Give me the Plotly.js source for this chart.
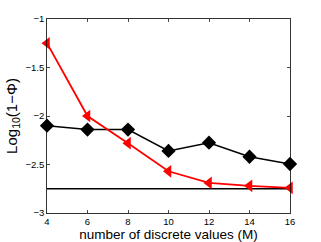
<!DOCTYPE html>
<html><head><meta charset="utf-8">
<script src="https://cdn.plot.ly/plotly-3.0.1.min.js"></script>
<style>html,body{margin:0;padding:0;background:#fff}#c{width:321px;height:242px}</style>
</head><body><div id="c"></div>
<script>
const M = [4, 6, 8, 10, 12, 14, 16];
const redSeries = [-1.25, -2.0, -2.28, -2.57, -2.69, -2.72, -2.74];
const blackSeries = [-2.10, -2.14, -2.14, -2.36, -2.275, -2.42, -2.495];
const baselineValue = -2.75;
const xTicks = [4, 6, 8, 10, 12, 14, 16];
const yTicks = [-3, -2.5, -2, -1.5, -1];
const yTickText = ['\u22123', '\u22122.5', '\u22122', '\u22121.5', '\u22121'];

const traces = [
  {x: [M[0], M[M.length-1]], y: [baselineValue, baselineValue], mode: 'lines',
   line: {color: '#000', width: 1.5}, cliponaxis: false, hoverinfo: 'skip'},
  {x: M, y: blackSeries, mode: 'lines+markers', cliponaxis: false,
   line: {color: '#000', width: 1.5},
   marker: {symbol: 'diamond', size: 11, color: '#000'}},
  {x: M, y: redSeries, mode: 'lines+markers', cliponaxis: false,
   line: {color: '#ff0000', width: 1.8},
   marker: {symbol: 'triangle-left', size: 11, color: '#ff0000'}}
];

const layout = {
  width: 321, height: 242,
  margin: {l: 47, r: 31, t: 19, b: 29},
  paper_bgcolor: '#fff', plot_bgcolor: '#fff',
  showlegend: false,
  font: {family: 'Liberation Sans, Arial, sans-serif', color: '#000'},
  xaxis: {range: [4, 16], tickvals: xTicks, ticktext: xTicks.map(String),
    ticks: 'inside', ticklen: 3, tickwidth: 0.7, tickcolor: '#000',
    showline: true, linecolor: '#000', linewidth: 0.8, mirror: 'ticks',
    showgrid: false, zeroline: false, tickfont: {size: 9.5},
    title: {text: 'number of discrete values (M)', font: {size: 13.5}, standoff: 1}},
  yaxis: {range: [-3, -1], tickvals: yTicks, ticktext: yTickText,
    ticks: 'inside', ticklen: 3, tickwidth: 0.7, tickcolor: '#000',
    showline: true, linecolor: '#000', linewidth: 0.8, mirror: 'ticks',
    showgrid: false, zeroline: false, tickfont: {size: 9.5},
    title: {text: 'Log<sub>10</sub>(1\u2212\u03a6)', font: {size: 15}, standoff: 4}}
};
Plotly.newPlot('c', traces, layout, {staticPlot: true});
</script></body></html>
